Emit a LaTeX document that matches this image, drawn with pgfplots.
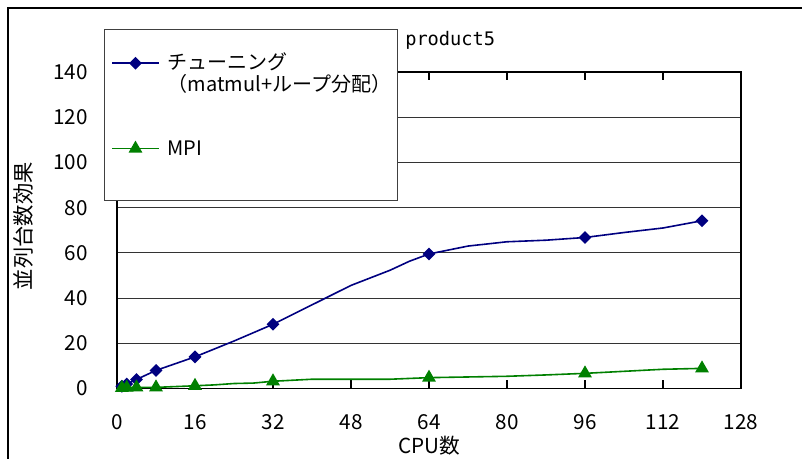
\documentclass[border=0pt]{standalone}
\usepackage{fontspec}
\setmainfont{Noto Sans CJK JP}
\newfontfamily\monofont{DejaVu Sans Mono}
\usepackage{pgfplots}
\usepackage{pgfplotstable}
\pgfplotsset{compat=1.18}
\definecolor{navyblue}{RGB}{0,0,128}
\definecolor{mpigreen}{RGB}{0,128,0}

\pgfplotstableread{
x y
1 1.0
2 2.0
4 4.0
8 8.0
16 14.0
24 21.0
32 28.4
40 37.0
48 45.6
56 52.3
60 56.3
64 59.5
72 63.0
80 64.9
88 65.6
96 66.8
104 69.0
112 71.0
120 74.2
}\tune

\pgfplotstableread{
x y
1 0.3
2 0.4
4 0.5
8 0.5
16 1.2
20 1.6
24 2.2
28 2.4
32 3.2
40 4.1
48 4.1
56 4.1
64 4.8
72 5.1
80 5.4
88 6.0
96 6.7
104 7.6
112 8.5
120 8.9
}\mpi

\begin{document}
\begin{tikzpicture}
\useasboundingbox (-87.75pt,-52.875pt) rectangle (513.75pt,291.375pt);
\draw[black, line width=1.1pt] (-81.75pt,-60pt) -- (-81.75pt,285.375pt) -- (520pt,285.375pt);
\begin{axis}[
  at={(0,0)}, anchor=south west, scale only axis,
  width=468pt, height=237.375pt,
  xmin=0, xmax=128, ymin=0, ymax=140,
  xtick={0,16,...,128}, ytick={0,20,...,140},
  ymajorgrids, grid style={black!80, line width=0.7pt},
  axis line style={black, line width=1pt},
  tick align=inside, major tick length=6pt,
  xtick style={black, line width=0.8pt},
  ytick style={draw=none},
  /pgf/number format/assume math mode=true,
  ticklabel style={font=\fontsize{15.5}{18}\selectfont},
  xticklabel style={anchor=center, yshift=-25.1pt},
  yticklabel style={anchor=east, inner sep=0pt, xshift=-21.75pt},
  xlabel={CPU数}, ylabel={並列台数効果},
  xlabel style={at={(rel axis cs:0.5,0)}, anchor=center, yshift=-43.1pt, font=\fontsize{15.5}{18}\selectfont},
  ylabel style={at={(rel axis cs:-0.15,0.513)}, anchor=center, font=\fontsize{16}{18}\selectfont},
  legend image code/.code={\draw[#1,mark indices={2}] plot coordinates {(0pt,5pt) (17.6pt,5pt) (35.2pt,5pt)};},
  legend style={at={(-0.0208,1.1367)}, anchor=north west, draw=black!75, line width=0.8pt, fill=white,
    font=\fontsize{15}{16}\selectfont, inner xsep=5pt, inner ysep=18.5pt,
    row sep=0pt, column sep=6pt,
    nodes={inner sep=0pt, text height=12pt, text depth=4pt}},
  legend cell align=left,
  legend style={cells={anchor=base west}},
]
\addplot[navyblue, line width=1.2pt, mark=square*, mark size=2.8pt,
  mark options={rotate=45, solid, fill=navyblue, draw=navyblue},
  mark indices={1,2,3,4,5,7,12,16,19}] table[x=x,y=y] {\tune};
\addlegendentry{チューニング}
\addlegendimage{empty legend}
\addlegendentry{（matmul+ループ分配）}
\addlegendimage{empty legend}
\addlegendentry{\mbox{}}
\addlegendimage{empty legend}
\addlegendentry{\mbox{}}
\addplot[mpigreen, line width=1.2pt, mark=triangle*, mark size=4.8pt,
  mark options={solid, fill=mpigreen, draw=mpigreen},
  mark indices={1,2,3,4,5,9,13,17,20}] table[x=x,y=y] {\mpi};
\addlegendentry{MPI}
\addlegendimage{empty legend}
\addlegendentry[text height=0pt, text depth=11.7pt]{\mbox{}}
\end{axis}
\node[anchor=west, inner sep=0pt, font=\monofont\fontsize{14}{16}\selectfont] at (216pt,261.4pt) {product5};
\end{tikzpicture}
\end{document}
